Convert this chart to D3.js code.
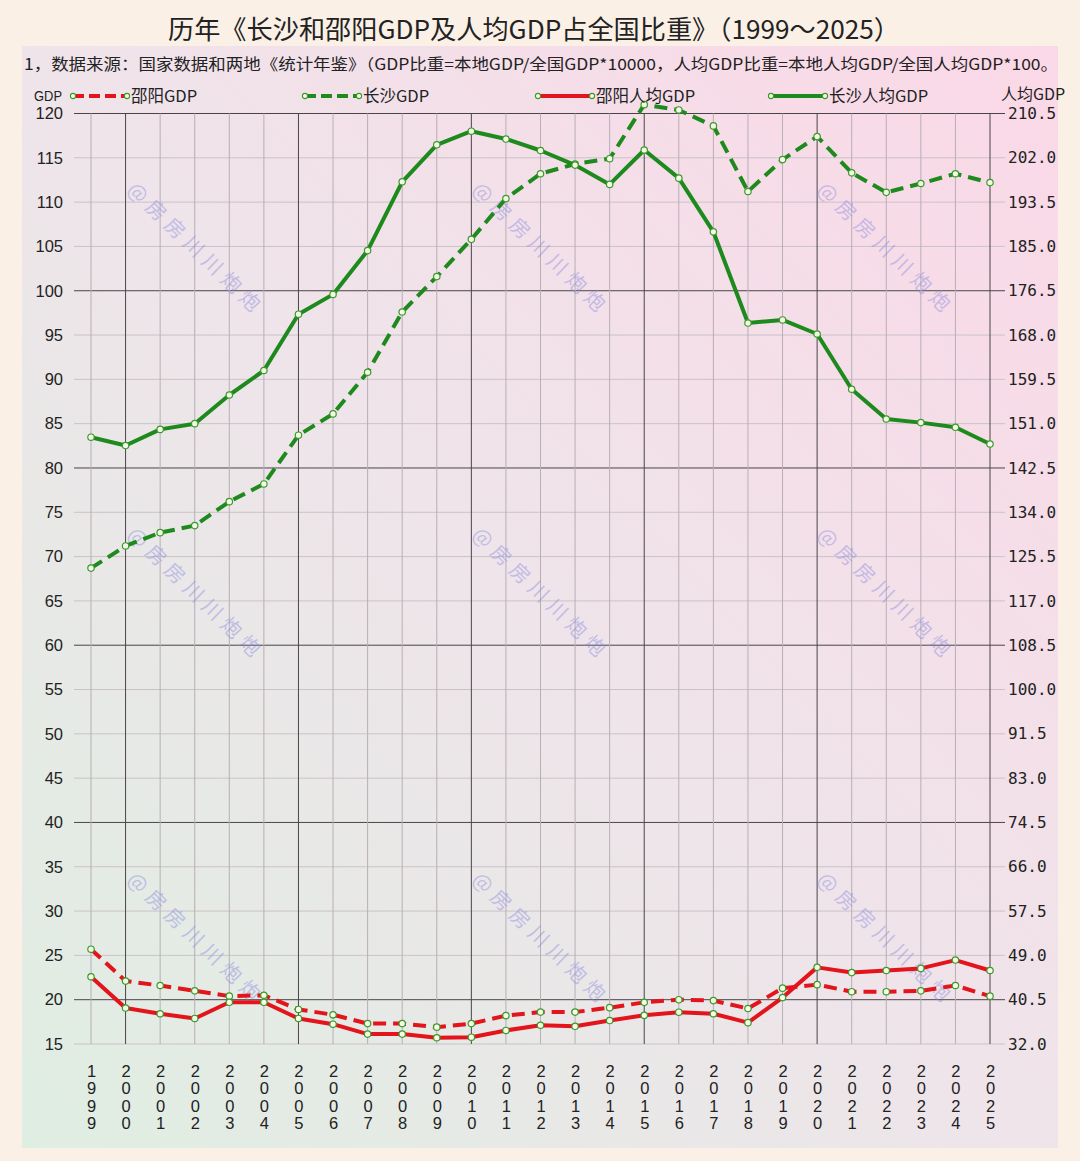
<!DOCTYPE html>
<html><head><meta charset="utf-8">
<script src="https://cdn.jsdelivr.net/npm/d3@7/dist/d3.min.js"></script>
<style>
html,body{margin:0;padding:0;background:#FAF0E6;}
svg{display:block;}
</style></head>
<body>
<script>
// ---------------- DATA ----------------
const years = [1999,2000,2001,2002,2003,2004,2005,2006,2007,2008,2009,2010,2011,2012,2013,2014,2015,2016,2017,2018,2019,2020,2021,2022,2023,2024,2025];
// left axis (GDP share ×10000)
const shaoyangGDP = [25.7,22.1,21.6,21.0,20.4,20.5,18.9,18.3,17.3,17.3,16.9,17.3,18.2,18.6,18.6,19.1,19.7,20.0,19.9,19.0,21.3,21.7,20.9,20.9,21.0,21.6,20.4];
const changshaGDP = [68.7,71.2,72.7,73.5,76.2,78.2,83.7,86.1,90.8,97.6,101.6,105.8,110.4,113.2,114.3,114.9,121.0,120.4,118.6,111.2,114.8,117.4,113.3,111.1,112.1,113.2,112.2];
// right axis (per-capita GDP share ×100)
const shaoyangPC = [44.9,38.9,37.8,36.9,40.0,40.0,36.9,35.8,33.9,33.9,33.2,33.3,34.6,35.6,35.4,36.5,37.5,38.1,37.8,36.1,40.9,46.7,45.7,46.1,46.5,48.1,46.1];
const changshaPC = [148.4,146.8,149.9,151.0,156.5,161.2,172.0,175.8,184.2,197.4,204.5,207.1,205.6,203.4,200.6,196.9,203.5,198.1,187.8,170.3,170.9,168.2,157.6,151.9,151.2,150.3,147.1];
const leftTicks = [15,20,25,30,35,40,45,50,55,60,65,70,75,80,85,90,95,100,105,110,115,120];
const rightTicks = [32.0,40.5,49.0,57.5,66.0,74.5,83.0,91.5,100.0,108.5,117.0,125.5,134.0,142.5,151.0,159.5,168.0,176.5,185.0,193.5,202.0,210.5];
const seriesNames = ["邵阳GDP","长沙GDP","邵阳人均GDP","长沙人均GDP"];
const titleText = "历年《长沙和邵阳GDP及人均GDP占全国比重》（1999～2025）";
const noteText = "1，数据来源：国家数据和两地《统计年鉴》（GDP比重=本地GDP/全国GDP*10000，人均GDP比重=本地人均GDP/全国人均GDP*100。";
const watermark = "@房房川川炮炮";

// ---------------- LAYOUT ----------------
const W = 1080, H = 1161;
const CJK = "'Noto Sans CJK SC','Noto Sans',sans-serif";
const RED = "#e3141b", GREEN = "#1e8a1e";

const svg = d3.select("body").append("svg").attr("width", W).attr("height", H);
const defs = svg.append("defs");
const grad = defs.append("linearGradient").attr("id","bg").attr("x1","0").attr("y1","1").attr("x2","1").attr("y2","0");
grad.append("stop").attr("offset","0").attr("stop-color","#dfeee2");
grad.append("stop").attr("offset","0.5").attr("stop-color","#efe4ea");
grad.append("stop").attr("offset","1").attr("stop-color","#fbd8e7");

svg.append("rect").attr("width",W).attr("height",H).attr("fill","#FAF0E6");
svg.append("rect").attr("x",22).attr("y",46).attr("width",1036).attr("height",1102).attr("fill","url(#bg)");

// title
svg.append("text").attr("x",168).attr("y",39)
  .attr("font-family",CJK).attr("font-size",26).attr("fill","#222")
  .attr("textLength",732).attr("lengthAdjust","spacingAndGlyphs").text(titleText);
svg.append("text").attr("x",24).attr("y",70)
  .attr("font-family",CJK).attr("font-size",15.5).attr("fill","#222")
  .attr("textLength",1034).attr("lengthAdjust","spacingAndGlyphs").text(noteText);

// scales
const x = d3.scalePoint().domain(years).range([91, 990]);
const yL = d3.scaleLinear().domain([15,120]).range([1044,113.5]);
const yR = d3.scaleLinear().domain([32,210.5]).range([1044,113.5]);
const gx0 = 74, gx1 = 1005;

// grid
const grid = svg.append("g");
grid.selectAll(".hg").data(leftTicks).join("line")
  .attr("x1",gx0).attr("x2",gx1).attr("y1",d=>yL(d)).attr("y2",d=>yL(d))
  .attr("stroke",d=> d%20===0 ? "#4a4448" : "#cbc2c8").attr("stroke-width",1);
grid.selectAll(".vg").data(years).join("line")
  .attr("x1",d=>x(d)).attr("x2",d=>x(d)).attr("y1",yL(120)).attr("y2",yL(15))
  .attr("stroke",d=> d%5===0 ? "#4a4448" : "#b8aeb6").attr("stroke-width",1);

// watermarks
const wm = svg.append("g");
[195,540,885].forEach(cx=>[250,595,940].forEach(cy=>{
  wm.append("text").attr("transform",`translate(${cx},${cy}) rotate(44)`)
    .attr("text-anchor","middle").attr("dominant-baseline","middle")
    .attr("font-family",CJK).attr("font-size",20).attr("letter-spacing",6)
    .attr("fill","#8c8ce0").attr("opacity",0.45).text(watermark);
}));

// axes
const axL = svg.append("g").attr("transform",`translate(${gx0},0)`)
  .call(d3.axisLeft(yL).tickValues(leftTicks).tickSize(0).tickPadding(11).tickFormat(d3.format("d")));
axL.select(".domain").remove();
axL.selectAll("text").attr("font-family","'Liberation Sans',Arial,sans-serif").attr("font-size",16.5).attr("fill","#222");

const axR = svg.append("g").attr("transform",`translate(${gx1},0)`)
  .call(d3.axisRight(yR).tickValues(rightTicks).tickSize(0).tickPadding(3).tickFormat(d3.format(".1f")));
axR.select(".domain").remove();
axR.selectAll("text").attr("font-family","'DejaVu Sans Mono',monospace").attr("font-size",16).attr("fill","#222");

const axB = svg.append("g").attr("transform",`translate(0,${yL(15)})`)
  .call(d3.axisBottom(x).tickSize(0).tickPadding(0).tickFormat(""));
axB.select(".domain").remove();
axB.selectAll(".tick text").each(function(d){
  const t = d3.select(this).attr("y",0).attr("dy",null)
    .attr("font-family","'Liberation Sans',Arial,sans-serif").attr("font-size",16.5).attr("fill","#222");
  String(d).split("").forEach((c,i)=>{
    t.append("tspan").attr("x",0).attr("y",33 + i*17.3).text(c);
  });
});

// axis titles
svg.append("text").attr("x",34).attr("y",101).attr("font-family","'Liberation Sans',Arial,sans-serif")
  .attr("font-size",15).attr("fill","#222").attr("textLength",28).attr("lengthAdjust","spacingAndGlyphs").text("GDP");
svg.append("text").attr("x",1001).attr("y",100).attr("font-family",CJK)
  .attr("font-size",16).attr("fill","#222").text("人均GDP");

// series
const series = [
  {name:seriesNames[0], vals:shaoyangGDP, y:yL, color:RED, dash:"13,7"},
  {name:seriesNames[1], vals:changshaGDP, y:yL, color:GREEN, dash:"13,7"},
  {name:seriesNames[2], vals:shaoyangPC, y:yR, color:RED, dash:null},
  {name:seriesNames[3], vals:changshaPC, y:yR, color:GREEN, dash:null}
];
const lines = svg.append("g");
series.forEach(s=>{
  const pts = years.map((yr,i)=>[x(yr), s.y(s.vals[i])]);
  lines.append("path").attr("d", d3.line()(pts)).attr("fill","none")
    .attr("stroke",s.color).attr("stroke-width",4).attr("stroke-linejoin","round")
    .attr("stroke-dasharray",s.dash);
  lines.selectAll(null).data(pts).join("circle").attr("cx",d=>d[0]).attr("cy",d=>d[1]).attr("r",3.2)
    .attr("fill","#f4fbe6").attr("stroke","#3a9a2a").attr("stroke-width",1.2);
});

// legend
const lg = svg.append("g");
const legX = [73, 305, 538, 771];
series.forEach((s,i)=>{
  const g = lg.append("g").attr("transform",`translate(${legX[i]},96)`);
  g.append("line").attr("x1",0).attr("x2",54).attr("y1",0).attr("y2",0)
    .attr("stroke",s.color).attr("stroke-width",4).attr("stroke-dasharray",s.dash ? "11,5" : null);
  [0,54].forEach(cx=>g.append("circle").attr("cx",cx).attr("cy",0).attr("r",2.6)
    .attr("fill","#f4fbe6").attr("stroke","#3a9a2a").attr("stroke-width",1.1));
  g.append("text").attr("x",58).attr("y",6).attr("font-family",CJK).attr("font-size",16.5)
    .attr("fill","#222").text(s.name);
});
</script>
</body></html>
